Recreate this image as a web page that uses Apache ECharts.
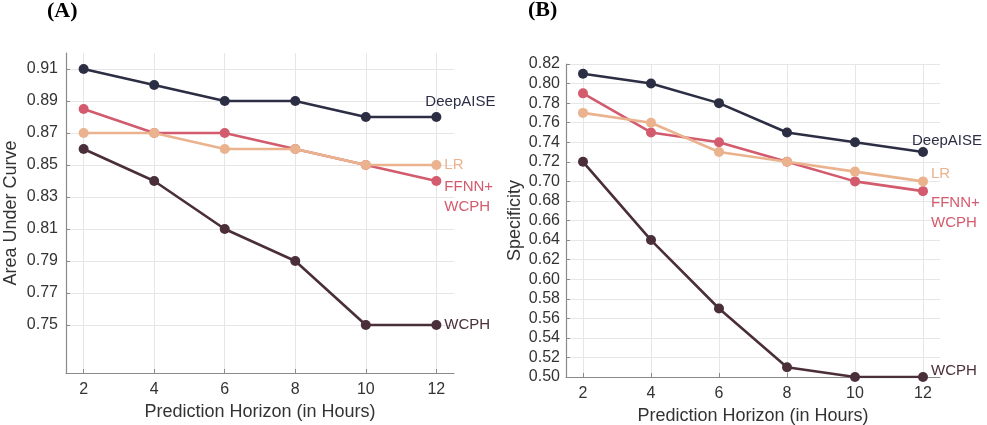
<!DOCTYPE html>
<html><head><meta charset="utf-8">
<script src="https://cdn.jsdelivr.net/npm/echarts@6/dist/echarts.min.js"></script>
<style>html,body{margin:0;padding:0;background:#fff}#c{width:987px;height:425px}</style>
</head><body><div id="c"></div>
<script>
const hours = [2, 4, 6, 8, 10, 12];
const xTicks = [2, 4, 6, 8, 10, 12];
const aucTicks = [0.75, 0.77, 0.79, 0.81, 0.83, 0.85, 0.87, 0.89, 0.91];
const specTicks = [0.50,0.52,0.54,0.56,0.58,0.60,0.62,0.64,0.66,0.68,0.70,0.72,0.74,0.76,0.78,0.80,0.82];

const aucDeep = [0.91, 0.90, 0.89, 0.89, 0.88, 0.88];
const aucLR = [0.87, 0.87, 0.86, 0.86, 0.85, 0.85];
const aucFFNN = [0.885, 0.87, 0.87, 0.86, 0.85, 0.84];
const aucWCPH = [0.86, 0.84, 0.81, 0.79, 0.75, 0.75];

const specDeep = [0.81, 0.80, 0.78, 0.75, 0.74, 0.73];
const specLR = [0.77, 0.76, 0.73, 0.72, 0.71, 0.70];
const specFFNN = [0.79, 0.75, 0.74, 0.72, 0.70, 0.69];
const specWCPH = [0.72, 0.64, 0.57, 0.51, 0.50, 0.50];

const names = ['DeepAISE', 'LR', 'FFNN+\nWCPH', 'WCPH'];
const colors = ['#2c2e44', '#eab38e', '#d35b6e', '#4a2e39'];

const chart = echarts.init(document.getElementById('c'));
const FONT = 'Liberation Sans, Arial, sans-serif';

function mk(vals, idx, axis, labelCfg) {
  const data = vals.map((v, i) => {
    const d = {value: [hours[i], v]};
    if (i === vals.length - 1) {
      d.label = Object.assign({show: true, position: 'right', formatter: names[idx], color: colors[idx],
        fontFamily: FONT, fontSize: 15, lineHeight: 20, align: 'left'}, labelCfg);
    }
    return d;
  });
  return {
    type: 'line', name: names[idx], xAxisIndex: axis, yAxisIndex: axis, data,
    symbol: 'circle', symbolSize: 10, z: 10 - idx,
    lineStyle: {color: colors[idx], width: 2.6},
    itemStyle: {color: colors[idx]},
    animation: false
  };
}

function xAxis(gi, gap) {
  return {
    type: 'value', gridIndex: gi, min: 1.5, max: 12.5,
    name: 'Prediction Horizon (in Hours)', nameLocation: 'middle', nameGap: gap,
    nameTextStyle: {fontFamily: FONT, fontSize: 18, color: '#333'},
    axisLine: {show: true, lineStyle: {color: '#8a8a8a', width: 1.2}},
    axisTick: {show: true, inside: true, length: 4, customValues: xTicks, lineStyle: {color: '#8a8a8a'}},
    axisLabel: {customValues: xTicks, margin: 9, fontFamily: FONT, fontSize: 16, color: '#333'},
    splitLine: {show: true, lineStyle: {color: '#e6e6e6', width: 1}}
  };
}
function yAxis(gi, min, max, ticks, name, gap, margin) {
  return {
    type: 'value', gridIndex: gi, min, max, name, nameLocation: 'middle', nameGap: gap,
    nameTextStyle: {fontFamily: FONT, fontSize: 18, color: '#333'},
    axisLine: {show: true, lineStyle: {color: '#8a8a8a', width: 1.2}},
    axisTick: {show: true, inside: true, length: 4, customValues: ticks, lineStyle: {color: '#8a8a8a'}},
    axisLabel: {customValues: ticks, margin, fontFamily: FONT, fontSize: 16, color: '#333',
      formatter: v => v.toFixed(2)},
    splitLine: {show: true, lineStyle: {color: '#e6e6e6', width: 1}}
  };
}

chart.setOption({
  animation: false,
  graphic: [
    {type: 'text', left: 47, top: 0, style: {text: '(A)', font: 'bold 22px "Liberation Serif", "Times New Roman", serif', fill: '#000'}},
    {type: 'text', left: 528, top: -1, style: {text: '(B)', font: 'bold 22px "Liberation Serif", "Times New Roman", serif', fill: '#000'}}
  ],
  grid: [
    {left: 66, right: 533, top: 53, bottom: 52, outerBoundsMode: 'none', containLabel: false},
    {left: 566, right: 47, top: 64, bottom: 48, outerBoundsMode: 'none', containLabel: false}
  ],
  xAxis: [xAxis(0, 29), xAxis(1, 25)],
  yAxis: [
    yAxis(0, 0.72, 0.92, aucTicks, 'Area Under Curve', 46, 8),
    yAxis(1, 0.50, 0.82, specTicks, 'Specificity', 42, 6)
  ],
  series: [
    mk(aucDeep, 0, 0, {distance: 0, offset: [-16, -15]}),
    mk(aucLR, 1, 0, {distance: 3}),
    mk(aucFFNN, 2, 0, {distance: 3, offset: [0, 16]}),
    mk(aucWCPH, 3, 0, {distance: 3}),
    mk(specDeep, 0, 1, {distance: 0, offset: [-16, -11]}),
    mk(specLR, 1, 1, {distance: 3, offset: [0, -8]}),
    mk(specFFNN, 2, 1, {distance: 3, offset: [0, 22]}),
    mk(specWCPH, 3, 1, {distance: 3, offset: [0, -6]})
  ]
});
</script></body></html>
